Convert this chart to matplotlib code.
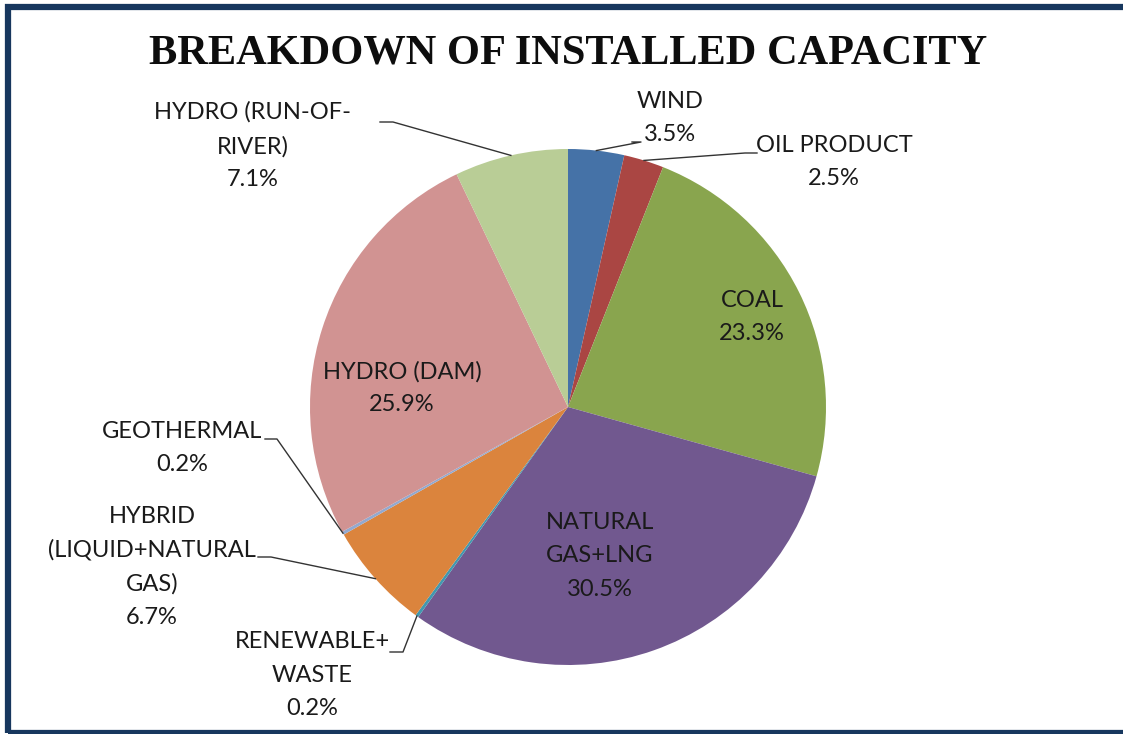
import matplotlib.pyplot as plt
from matplotlib.patches import Rectangle
import numpy as np

# pie data (clockwise from 12 o'clock)
labels = ['WIND', 'OIL PRODUCT', 'COAL', 'NATURAL\nGAS+LNG', 'RENEWABLE+\nWASTE',
          'HYBRID\n(LIQUID+NATURAL\nGAS)', 'GEOTHERMAL', 'HYDRO (DAM)',
          'HYDRO (RUN-OF-\nRIVER)']
shares = [3.5, 2.5, 23.3, 30.5, 0.2, 6.7, 0.2, 25.9, 7.1]
colors = ['#4572A7', '#AA4643', '#89A54E', '#71588F', '#4198AF',
          '#DB843D', '#93A9CF', '#D19392', '#B9CD96']

W, H = 1123, 734
CX, CY, R = 568, 407, 258   # pie centre / radius in pixels


def px(x, y):
    # pixel position -> pie axes data coords (radius 1)
    return (x - CX) / R, (CY - y) / R


fig = plt.figure(figsize=(W / 100, H / 100), dpi=100)
fig.patch.set_facecolor('white')

# navy frame (cropped on the right)
fig.patches.append(Rectangle((8 / W, 1 - 733 / H), 1.2, (733 - 7) / H,
                             transform=fig.transFigure, fill=False,
                             edgecolor='#17375E', linewidth=4.5))

fig.text(568 / W, 1 - 53 / H, 'BREAKDOWN OF INSTALLED CAPACITY',
         ha='center', va='center', fontsize=30.5, fontweight='bold',
         family='Liberation Serif', color='#0d0d0d')

ax = fig.add_axes([(CX - R) / W, (H - CY - R) / H, 2 * R / W, 2 * R / H])
ax.pie(shares, colors=colors, startangle=90, counterclock=False, radius=1,
       wedgeprops=dict(linewidth=0))
ax.set_xlim(-1, 1)
ax.set_ylim(-1, 1)
ax.axis('off')

# label block centres (pixels) and leader line elbows (None = inside label)
text_pos = [(670, 118), (834, 162), (752, 317), (600, 556), (312, 675),
            (152, 567), (182, 448), (402, 388), (253, 146)]
elbows = [((632, 142), (641, 142)), ((757, 153), (745, 153)), None, None,
          ((390, 652), (403, 652)), ((258, 557), (271, 557)),
          ((265, 439), (277, 439)), None, ((380, 122), (393, 122))]

cum = np.cumsum([0] + shares[:-1])
total = sum(shares)
for i, lab in enumerate(labels):
    s = f'{lab}\n{shares[i]:.1f}%'
    tx, ty = px(*text_pos[i])
    ax.text(tx, ty, s, ha='center', va='center', fontsize=17, family='Lato',
            color='#1a1a1a', linespacing=1.72, clip_on=False)
    if elbows[i] is not None:
        mid = np.deg2rad((cum[i] + shares[i] / 2) / total * 360)
        ax_, ay_ = np.sin(mid), np.cos(mid)
        (x0, y0), (x1, y1) = [px(*p) for p in elbows[i]]
        ax.plot([x0, x1, ax_], [y0, y1, ay_], color='#333333', lw=1,
                clip_on=False)

fig.savefig('out.png', dpi=100)
